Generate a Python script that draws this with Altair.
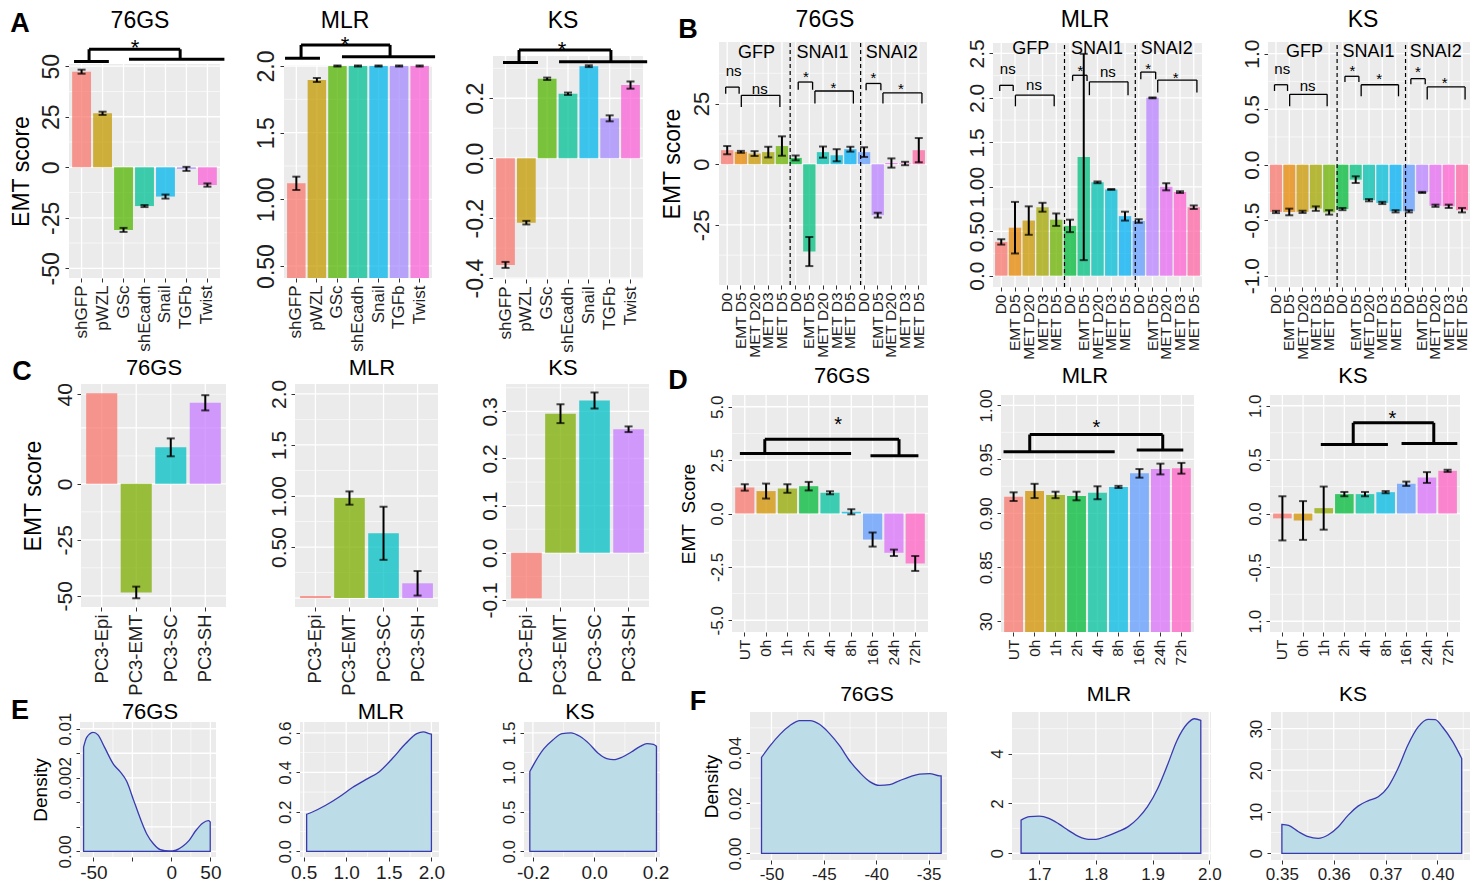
import altair as alt
import pandas as pd

FONT = "Liberation Sans"
GREY = "#EBEBEB"
LBL = "#1E1E1E"
W_TOTAL, H_TOTAL = 1473, 893

# ---------------- palettes (ggplot hue) ----------------
HUE7 = ["#F8766D", "#C49A00", "#53B400", "#00C094", "#00B6EB", "#A58AFF", "#FB61D7"]
HUE15 = ["#F8766D", "#E58700", "#C99800", "#A3A500", "#6BB100", "#00BA38", "#00BF7D", "#00C0AF",
         "#00BCD8", "#00B0F6", "#619CFF", "#B983FF", "#E76BF3", "#FD61D1", "#FF67A4"]
HUE4 = ["#F8766D", "#7CAE00", "#00BFC4", "#C77CFF"]
HUE9 = ["#F8766D", "#D39200", "#93AA00", "#00BA38", "#00C19F", "#00B9E3", "#619CFF", "#DB72FB", "#FF61C3"]

# ---------------- panel A ----------------
A_CATS = ["shGFP", "pWZL", "GSc", "shEcadh", "Snail", "TGFb", "Twist"]
A76_VAL = [47.3, 26.7, -31.0, -19.2, -14.5, -0.8, -8.8]
A76_ERR = [1.0, 0.8, 1.0, 0.5, 1.0, 1.0, 0.8]
AMLR_VAL = [1.12, 1.895, 2.0, 2.0, 2.0, 2.0, 2.0]
AMLR_ERR = [0.05, 0.015, 0.004, 0.004, 0.004, 0.004, 0.004]
AKS_VAL = [-0.356, -0.215, 0.265, 0.215, 0.307, 0.133, 0.244]
AKS_ERR = [0.01, 0.006, 0.004, 0.004, 0.003, 0.01, 0.012]
A76_BR = {"left": (-0.36, 1.30, 52.3), "right": (2.26, 6.81, 53.5), "top": (0.357, 4.70, 58.4), "star": (2.55, 62.0)}
AMLR_BR = {"left": (-0.55, 1.15, 2.058), "right": (2.22, 6.75, 2.07), "top": (0.23, 4.56, 2.158), "star": (2.37, 2.205)}
AKS_BR = {"left": (-0.12, 1.56, 0.319), "right": (2.57, 6.8, 0.322), "top": (0.65, 5.06, 0.361), "star": (2.71, 0.382)}

# ---------------- panel B ----------------
B_GROUPS = ["GFP", "SNAI1", "SNAI2"]
B_TIMES = ["D0", "EMT D5", "MET D20", "MET D3", "MET D5"]
B_CATS = [g + "|" + t for g in B_GROUPS for t in B_TIMES]
B76_VAL = [5.8, 5.1, 4.4, 5.0, 7.5, 2.6, -36.0, 5.0, 3.7, 6.2, 5.0, -21.0, 0.5, 0.3, 5.8]
B76_ERR = [1.7, 0.4, 1.0, 2.2, 4.0, 1.0, 6.0, 2.3, 2.5, 1.0, 2.0, 1.0, 1.9, 0.7, 5.0]
BMLR_VAL = [0.38, 0.54, 0.62, 0.77, 0.63, 0.56, 1.335, 1.05, 0.97, 0.67, 0.615, 2.0, 1.0, 0.94, 0.77]
BMLR_ERR = [0.03, 0.29, 0.16, 0.05, 0.07, 0.07, 1.16, 0.01, 0.005, 0.05, 0.02, 0.005, 0.04, 0.01, 0.02]
BKS_VAL = [-0.426, -0.426, -0.425, -0.396, -0.43, -0.40, -0.135, -0.32, -0.345, -0.42,
           -0.42, -0.25, -0.37, -0.375, -0.41]
BKS_ERR = [0.01, 0.03, 0.01, 0.02, 0.02, 0.01, 0.03, 0.01, 0.01, 0.01, 0.01, 0.005, 0.01, 0.015, 0.02]
B_SMALL_X = [(-0.11, 0.87), (5.19, 6.24), (10.15, 11.23)]
B_BIG_X = [(1.03, 3.85), (6.41, 9.22), (11.38, 14.23)]
B_SMALL_LX = [0.47, 5.75, 10.69]
B_BIG_LX = [2.38, 7.76, 12.69]
B_GROUP_LX = [2.14, 6.97, 12.03]
B_DASH_X = [4.6, 9.75]
B76_LEV = [(31.8, 29.1, 38.4, 28.4, 23.6, 31.2, "ns", "ns"),
           (33.9, 30.7, 37.6, 30.2, 25.0, 33.2, "*", "*"),
           (33.3, 30.5, 37.2, 29.4, 25.0, 32.5, "*", "*")]
BMLR_LEV = [(2.141, 2.077, 2.32, 2.03, 1.905, 2.15, "ns", "ns"),
            (2.254, 2.19, 2.35, 2.18, 2.03, 2.29, "*", "ns"),
            (2.29, 2.21, 2.375, 2.2, 2.06, 2.27, "*", "*")]
BKS_LEV = [(0.72, 0.664, 0.86, 0.634, 0.526, 0.71, "ns", "ns"),
           (0.796, 0.745, 0.88, 0.72, 0.616, 0.805, "*", "*"),
           (0.775, 0.724, 0.87, 0.70, 0.586, 0.775, "*", "*")]
B76_GY, BMLR_GY, BKS_GY = 46.0, 2.545, 1.012

# ---------------- panel C ----------------
C_CATS = ["PC3-Epi", "PC3-EMT", "PC3-SC", "PC3-SH"]
C76_VAL = [40.5, -48.5, 16.3, 36.2]
C76_ERR = [None, 2.6, 4.0, 3.4]
CMLR_VAL = [0.02, 0.98, 0.635, 0.145]
CMLR_ERR = [None, 0.065, 0.26, 0.12]
CKS_VAL = [-0.0965, 0.295, 0.323, 0.262]
CKS_ERR = [None, 0.02, 0.017, 0.006]

# ---------------- panel D ----------------
D_CATS = ["UT", "0h", "1h", "2h", "4h", "8h", "16h", "24h", "72h"]
D76_VAL = [1.22, 1.05, 1.17, 1.28, 0.97, 0.08, -1.22, -1.84, -2.34]
D76_ERR = [0.15, 0.35, 0.2, 0.2, 0.07, 0.12, 0.33, 0.15, 0.35]
DMLR_VAL = [0.9154, 0.9207, 0.917, 0.916, 0.919, 0.9244, 0.937, 0.941, 0.9417]
DMLR_ERR = [0.004, 0.0066, 0.003, 0.004, 0.006, 0.001, 0.004, 0.005, 0.005]
DKS_VAL = [-0.045, -0.065, 0.05, 0.18, 0.18, 0.198, 0.276, 0.334, 0.396]
DKS_ERR = [0.205, 0.18, 0.2, 0.02, 0.02, 0.01, 0.02, 0.05, 0.01]
D76_BR = {"left": (-0.23, 4.99, 2.81), "right": (5.9, 8.15, 2.7), "top": (0.94, 7.24, 3.48), "star": (4.38, 4.4)}
DMLR_BR = {"left": (-0.48, 4.82, 0.957), "right": (5.87, 8.09, 0.9586), "top": (0.77, 7.11, 0.973), "star": (3.95, 0.984)}
DKS_BR = {"left": (1.86, 5.11, 0.64), "right": (5.77, 8.47, 0.65), "top": (3.43, 7.33, 0.842), "star": (5.33, 0.93)}

# ---------------- panel E (densities) ----------------
E76_X = [-56.3, -54.3, -50, -47.1, -42.9, -37.1, -32.9, -28.6, -24.3, -20, -15.7, -11.4, -7.1, -1.4,
         2.9, 7.1, 11.4, 15.7, 20, 23.7, 24.9]
E76_D = [0.0085, 0.0093, 0.0097, 0.0095, 0.0085, 0.0071, 0.0065, 0.0057, 0.0042, 0.0027, 0.0014,
         0.0006, 0.00014, 0.00003, 0.0001, 0.0004, 0.0009, 0.0017, 0.0023, 0.0025, 0.0024]
EMLR_X = [0.536, 0.604, 0.76, 0.917, 1.073, 1.229, 1.385, 1.542, 1.698, 1.828, 1.906, 1.974, 2.0]
EMLR_D = [0.1875, 0.199, 0.233, 0.275, 0.323, 0.363, 0.402, 0.47, 0.546, 0.596, 0.605, 0.596, 0.593]
EKS_X = [-0.21, -0.193, -0.164, -0.135, -0.105, -0.076, -0.047, -0.017, 0.012, 0.041, 0.063, 0.092,
         0.121, 0.15, 0.172, 0.193, 0.203]
EKS_D = [1.01, 1.13, 1.30, 1.41, 1.49, 1.50, 1.456, 1.363, 1.245, 1.173, 1.16, 1.194, 1.257, 1.329,
         1.363, 1.354, 1.329]

# ---------------- panel F (densities) ----------------
F76_X = [-50.95, -50.14, -49.19, -48.24, -47.3, -46.33, -45.38, -44.43, -43.48, -42.52, -41.57, -40.62,
         -39.67, -38.71, -37.76, -36.81, -35.86, -34.9, -33.95, -33.8]
F76_D = [0.0382, 0.0428, 0.0474, 0.0509, 0.0529, 0.0529, 0.0513, 0.0476, 0.0428, 0.0368, 0.0322,
         0.0286, 0.0271, 0.0274, 0.029, 0.0305, 0.0316, 0.0318, 0.0309, 0.0309]
FMLR_X = [1.668, 1.683, 1.70, 1.717, 1.735, 1.752, 1.77, 1.787, 1.80, 1.817, 1.839, 1.857, 1.874,
          1.891, 1.909, 1.926, 1.943, 1.961, 1.974, 1.985]
FMLR_D = [1.33, 1.47, 1.49, 1.40, 1.17, 0.91, 0.67, 0.56, 0.56, 0.67, 0.87, 1.07, 1.40, 1.87, 2.6,
          3.53, 4.53, 5.2, 5.4, 5.33]
FKS_X = [0.35, 0.3513, 0.3532, 0.3551, 0.357, 0.3589, 0.3609, 0.3628, 0.3647, 0.3666, 0.3686, 0.3705,
         0.3724, 0.3743, 0.3763, 0.3782, 0.3796, 0.381, 0.383, 0.3847]
FKS_D = [6.96, 6.72, 5.2, 4.0, 3.6, 4.4, 6.4, 9.2, 11.36, 12.64, 13.6, 16.0, 20.4, 26.0, 30.4, 32.24,
         32.16, 30.4, 26.8, 22.8]

SP_DF = pd.DataFrame({"a": [0]})


# ================= helpers =================
def lab_expr(labels):
    s = ""
    for v, t in labels.items():
        s += "datum.value == %r ? '%s' : " % (v, t)
    return s + "''"


def y_axis(rect, labels, major, size, title=None, tsize=20, tpad=4):
    vals = sorted(set(list(major) + list(labels)))
    kw = dict(orient="left", offset=-rect[0], values=vals, labelExpr=lab_expr(labels),
              labelFontSize=size, labelColor=LBL, labelFont=FONT, labelOverlap=False, labelFlush=False,
              labelAngle=270, labelAlign="center", labelBaseline="bottom", labelPadding=2,
              domain=False, grid=False, tickColor="#333333", tickSize=4, tickWidth=1)
    if title:
        kw.update(title=title, titleFontSize=tsize, titleFont=FONT, titleFontWeight="normal",
                  titleColor="black", titlePadding=tpad)
    else:
        kw.update(title=None)
    return alt.Axis(**kw)


def x_axis_q(rect, labels, major, size):
    vals = sorted(set(list(major) + list(labels)))
    return alt.Axis(orient="bottom", offset=rect[3] - H_TOTAL, values=vals, labelExpr=lab_expr(labels),
                    labelFontSize=size, labelColor=LBL, labelFont=FONT, labelOverlap=False,
                    labelFlush=False, labelAngle=0, labelAlign="center", labelBaseline="top",
                    labelPadding=2, domain=False, grid=False, tickColor="#333333", tickSize=4,
                    tickWidth=1, title=None)


def x_axis_band(rect, size, expr=None):
    kw = dict(orient="bottom", offset=rect[3] - H_TOTAL, title=None, labelAngle=270, labelAlign="right",
              labelBaseline="middle", labelFontSize=size, labelColor=LBL, labelFont=FONT, labelPadding=3,
              labelOverlap=False, domain=False, grid=False, tickColor="#333333", tickSize=4)
    if expr:
        kw["labelExpr"] = expr
    return alt.Axis(**kw)


def bg(rect):
    x0, y0, x1, y1 = rect
    return alt.Chart(SP_DF).mark_rect(fill=GREY).encode(
        x=alt.value(x0), x2=alt.value(x1), y=alt.value(y0), y2=alt.value(y1))


def inside(v, dom):
    return min(dom) <= v <= max(dom)


def hgrid(rect, ys, dom, major, minor):
    mj = [v for v in major if inside(v, dom)]
    mn = [v for v in minor if inside(v, dom)]
    df = pd.DataFrame({"v": mj + mn, "w": [1.3] * len(mj) + [0.6] * len(mn)})
    return alt.Chart(df).mark_rule(color="white").encode(
        y=alt.Y("v:Q", scale=ys, axis=None), x=alt.value(rect[0]), x2=alt.value(rect[2]),
        strokeWidth=alt.StrokeWidth("w:Q", scale=None))


def vgrid_q(rect, xs, dom, major, minor):
    mj = [v for v in major if inside(v, dom)]
    mn = [v for v in minor if inside(v, dom)]
    df = pd.DataFrame({"v": mj + mn, "w": [1.3] * len(mj) + [0.6] * len(mn)})
    return alt.Chart(df).mark_rule(color="white").encode(
        x=alt.X("v:Q", scale=xs, axis=None), y=alt.value(rect[1]), y2=alt.value(rect[3]),
        strokeWidth=alt.StrokeWidth("w:Q", scale=None))


def vgrid_band(rect, xs, cats):
    df = pd.DataFrame({"cat": cats})
    return alt.Chart(df).mark_rule(color="white", strokeWidth=1.3).encode(
        x=alt.X("cat:N", scale=xs, sort=cats, axis=None), y=alt.value(rect[1]), y2=alt.value(rect[3]))


def seg_chart(df, xq, ys, sw, dash=None):
    kw = dict(color="black", strokeWidth=sw)
    if dash:
        kw["strokeDash"] = dash
    return alt.Chart(df).mark_rule(**kw).encode(
        x=alt.X("x:Q", scale=xq, axis=None), x2="x2:Q",
        y=alt.Y("y:Q", scale=ys, axis=None), y2="y2:Q")


def txt_chart(df, xq, ys, size, dy=0):
    return alt.Chart(df).mark_text(font=FONT, fontSize=size, color="black", baseline="middle",
                                   align="center", dy=dy).encode(
        x=alt.X("x:Q", scale=xq, axis=None), y=alt.Y("y:Q", scale=ys, axis=None), text="t:N")


def text_at(t, x, y, size, bold=False):
    return alt.Chart(SP_DF).mark_text(font=FONT, fontSize=size, fontWeight="bold" if bold else "normal",
                                      color="black", baseline="middle", align="center").encode(
        x=alt.value(x), y=alt.value(y), text=alt.value(t))


def sig_annots(br, sw=3, star_size=22):
    L, R, T, S = br["left"], br["right"], br["top"], br["star"]
    segs = pd.DataFrame({
        "x": [L[0], R[0], T[0], T[0], T[1]],
        "x2": [L[1], R[1], T[1], T[0], T[1]],
        "y": [L[2], R[2], T[2], T[2], T[2]],
        "y2": [L[2], R[2], T[2], L[2], R[2]]})
    star = pd.DataFrame({"x": [S[0]], "y": [S[1]], "t": ["*"]})
    return [lambda xq, ys: seg_chart(segs, xq, ys, sw),
            lambda xq, ys: txt_chart(star, xq, ys, star_size, dy=star_size * 0.28)]


def b_annots(lev, gy, dom):
    xs, x2s, ys_, y2s = [], [], [], []
    ns_rows, st_rows = [], []
    for g in range(3):
        st, se, sl, bt, be, bl, stxt, btxt = lev[g]
        for (a, b), top, end in ((B_SMALL_X[g], st, se), (B_BIG_X[g], bt, be)):
            xs += [a, a, b]
            x2s += [b, a, b]
            ys_ += [top, top, top]
            y2s += [top, end, end]
        for xx, yy, tt in ((B_SMALL_LX[g], sl, stxt), (B_BIG_LX[g], bl, btxt)):
            (ns_rows if tt == "ns" else st_rows).append((xx, yy, tt))
    segs = pd.DataFrame({"x": xs, "x2": x2s, "y": ys_, "y2": y2s})
    ns = pd.DataFrame(ns_rows, columns=["x", "y", "t"])
    stars = pd.DataFrame(st_rows, columns=["x", "y", "t"])
    groups = pd.DataFrame({"x": B_GROUP_LX, "y": [gy] * 3, "t": B_GROUPS})
    dash = pd.DataFrame({"x": B_DASH_X, "x2": B_DASH_X, "y": [dom[0]] * 2, "y2": [dom[1]] * 2})
    return [lambda xq, ys: seg_chart(segs, xq, ys, 1.3),
            lambda xq, ys: seg_chart(dash, xq, ys, 1.2, dash=[4, 3]),
            lambda xq, ys: txt_chart(ns, xq, ys, 15),
            lambda xq, ys: txt_chart(stars, xq, ys, 15, dy=4),
            lambda xq, ys: txt_chart(groups, xq, ys, 18)]


def bar_panel(rect, cats, vals, errs, colors, dom, yax, xax, hmajor, hminor, annots=()):
    x0, y0, x1, y1 = rect
    base = min(max(0.0, dom[0]), dom[1])
    lo = [None if e is None else v - e for v, e in zip(vals, errs)]
    hi = [None if e is None else v + e for v, e in zip(vals, errs)]
    df = pd.DataFrame({"cat": cats, "val": vals, "base": [base] * len(cats), "lo": lo, "hi": hi,
                       "col": colors})
    xs = alt.Scale(domain=cats, range=[x0, x1], paddingInner=0.1, paddingOuter=0.15)
    ys = alt.Scale(domain=dom, range=[y1, y0], nice=False, zero=False)

    def X(ax):
        return alt.X("cat:N", scale=xs, sort=cats, axis=ax)

    c = alt.Chart(df)
    bars = c.mark_bar(opacity=0.75).encode(
        x=X(xax), y=alt.Y("val:Q", scale=ys, axis=yax), y2="base:Q",
        color=alt.Color("col:N", scale=None))
    err = c.mark_rule(color="black", strokeWidth=2).encode(
        x=X(None), y=alt.Y("lo:Q", scale=ys, axis=None), y2="hi:Q")
    cap1 = c.mark_tick(color="black", thickness=2, size=8).encode(
        x=X(None), y=alt.Y("lo:Q", scale=ys, axis=None))
    cap2 = c.mark_tick(color="black", thickness=2, size=8).encode(
        x=X(None), y=alt.Y("hi:Q", scale=ys, axis=None))
    n = len(cats)
    xq = alt.Scale(domain=[-0.6, n - 0.4], range=[x0, x1], nice=False, zero=False)
    layers = [bg(rect), hgrid(rect, ys, dom, hmajor, hminor), vgrid_band(rect, xs, cats),
              bars, err, cap1, cap2]
    for a in annots:
        layers.append(a(xq, ys))
    return alt.layer(*layers).resolve_scale(x="independent", y="independent")


def dens_panel(rect, xv, dv, xdom, ydom, xax, yax, xmaj, xmin, ymaj, ymin):
    x0, y0, x1, y1 = rect
    xs = alt.Scale(domain=xdom, range=[x0, x1], nice=False, zero=False)
    ys = alt.Scale(domain=ydom, range=[y1, y0], nice=False, zero=False)
    df = pd.DataFrame({"x": xv, "d": dv})
    area = alt.Chart(df).mark_area(fill="#BCDDE7", stroke="#3A3AB0", strokeWidth=1.3,
                                   interpolate="monotone", fillOpacity=1).encode(
        x=alt.X("x:Q", scale=xs, axis=xax), y=alt.Y("d:Q", scale=ys, axis=yax))
    layers = [bg(rect), hgrid(rect, ys, ydom, ymaj, ymin), vgrid_q(rect, xs, xdom, xmaj, xmin), area]
    return alt.layer(*layers).resolve_scale(x="independent", y="independent")


# ================= panel rectangles (left, top, right, bottom) in page pixels =================
R_A76, R_AMLR, R_AKS = (69, 64, 220, 278), (284, 65, 432, 278), (493, 56, 643, 279)
R_B76, R_BMLR, R_BKS = (719, 42, 927, 285), (993, 43, 1202, 287), (1268, 42, 1470, 287)
R_C76, R_CMLR, R_CKS = (81, 384, 226, 607), (295, 384, 438, 607), (506, 384, 649, 607)
R_D76, R_DMLR, R_DKS = (732, 395, 928, 632), (1001, 395, 1194, 632), (1270, 395, 1460, 632)
R_E76, R_EMLR, R_EKS = (80, 722, 216, 857), (300, 722, 439, 857), (524, 722, 660, 857)
R_F76, R_FMLR, R_FKS = (750, 712, 947, 860), (1012, 712, 1211, 860), (1271, 712, 1470, 860)

EMT = "EMT score"
layers = []

# ---- A ----
M = [-50, -25, 0, 25, 50]
layers.append(bar_panel(R_A76, A_CATS, A76_VAL, A76_ERR, HUE7, [-54.8, 51.1],
                        y_axis(R_A76, {v: str(v) for v in M}, M, 23, EMT, 23, 7),
                        x_axis_band(R_A76, 17), M, [-37.5, -12.5, 12.5, 37.5], sig_annots(A76_BR)))
M = [0.5, 1.0, 1.5, 2.0]
layers.append(bar_panel(R_AMLR, A_CATS, AMLR_VAL, AMLR_ERR, HUE7, [0.41, 2.0075],
                        y_axis(R_AMLR, {0.5: "0.50", 1.0: "1.00", 1.5: "1.5", 2.0: "2.0"}, M, 23),
                        x_axis_band(R_AMLR, 17), M, [0.75, 1.25, 1.75], sig_annots(AMLR_BR)))
M = [-0.4, -0.2, 0.0, 0.2]
layers.append(bar_panel(R_AKS, A_CATS, AKS_VAL, AKS_ERR, HUE7, [-0.403, 0.341],
                        y_axis(R_AKS, {-0.4: "-0.4", -0.2: "-0.2", 0.0: "0.0", 0.2: "0.2"}, M, 23),
                        x_axis_band(R_AKS, 17), M, [-0.3, -0.1, 0.1, 0.3], sig_annots(AKS_BR)))

# ---- B ----
B_EXPR = "split(datum.label, '|')[1]"
B76_DOM, BMLR_DOM, BKS_DOM = [-49.8, 50.4], [-0.127, 2.617], [-1.102, 1.105]
M = [-25, 0, 25]
layers.append(bar_panel(R_B76, B_CATS, B76_VAL, B76_ERR, HUE15, B76_DOM,
                        y_axis(R_B76, {-25: "-25", 0: "0", 25: "25"}, M, 22, EMT, 23, 6),
                        x_axis_band(R_B76, 15.5, B_EXPR), M, [-37.5, -12.5, 12.5, 37.5],
                        b_annots(B76_LEV, B76_GY, B76_DOM)))
M = [0.0, 0.5, 1.0, 1.5, 2.0, 2.5]
layers.append(bar_panel(R_BMLR, B_CATS, BMLR_VAL, BMLR_ERR, HUE15, BMLR_DOM,
                        y_axis(R_BMLR, {0.0: "0.0", 0.5: "0.50", 1.0: "1.00", 1.5: "1.5", 2.0: "2.0",
                                        2.5: "2.5"}, M, 21),
                        x_axis_band(R_BMLR, 15.5, B_EXPR), M, [0.25, 0.75, 1.25, 1.75, 2.25],
                        b_annots(BMLR_LEV, BMLR_GY, BMLR_DOM)))
M = [-1.0, -0.5, 0.0, 0.5, 1.0]
layers.append(bar_panel(R_BKS, B_CATS, BKS_VAL, BKS_ERR, HUE15, BKS_DOM,
                        y_axis(R_BKS, {-1.0: "-1.0", -0.5: "-0.5", 0.0: "0.0", 0.5: "0.5", 1.0: "1.0"}, M, 21),
                        x_axis_band(R_BKS, 15.5, B_EXPR), M, [-0.75, -0.25, 0.25, 0.75],
                        b_annots(BKS_LEV, BKS_GY, BKS_DOM)))

# ---- C ----
layers.append(bar_panel(R_C76, C_CATS, C76_VAL, C76_ERR, HUE4, [-55.0, 44.6],
                        y_axis(R_C76, {-50: "-50", -25: "-25", 0: "0", 40: "40"}, [-50, -25, 0], 21, EMT, 23, 9),
                        x_axis_band(R_C76, 18.5), [-50, -25, 0, 25], [-37.5, -12.5, 12.5, 40]))
layers.append(bar_panel(R_CMLR, C_CATS, CMLR_VAL, CMLR_ERR, HUE4, [-0.087, 2.097],
                        y_axis(R_CMLR, {0.5: "0.50", 1.0: "1.00", 1.5: "1.5", 2.0: "2.0"}, [0.5, 1.0, 1.5, 2.0], 21),
                        x_axis_band(R_CMLR, 18.5), [0.0, 0.5, 1.0, 1.5, 2.0], [0.25, 0.75, 1.25, 1.75]))
M = [-0.1, 0.0, 0.1, 0.2, 0.3]
layers.append(bar_panel(R_CKS, C_CATS, CKS_VAL, CKS_ERR, HUE4, [-0.115, 0.358],
                        y_axis(R_CKS, {-0.1: "-0.1", 0.0: "0.0", 0.1: "0.1", 0.2: "0.2", 0.3: "0.3"}, M, 21),
                        x_axis_band(R_CKS, 18.5), M, [-0.05, 0.05, 0.15, 0.25, 0.35]))

# ---- D ----
M = [-5.0, -2.5, 0.0, 2.5, 5.0]
layers.append(bar_panel(R_D76, D_CATS, D76_VAL, D76_ERR, HUE9, [-5.55, 5.55],
                        y_axis(R_D76, {-5.0: "-5.0", -2.5: "-2.5", 0.0: "0.0", 2.5: "2.5", 5.0: "5.0"}, M, 17,
                               "EMT\u00a0\u00a0Score", 19, 10),
                        x_axis_band(R_D76, 15.5), M, [-3.75, -1.25, 1.25, 3.75], sig_annots(D76_BR, 3, 20)))
M = [0.8, 0.85, 0.9, 0.95, 1.0]
layers.append(bar_panel(R_DMLR, D_CATS, DMLR_VAL, DMLR_ERR, HUE9, [0.79, 1.0096],
                        y_axis(R_DMLR, {0.8: "30", 0.85: "0.85", 0.9: "0.90", 0.95: "0.95", 1.0: "1.00"}, M, 17),
                        x_axis_band(R_DMLR, 15.5), M, [0.825, 0.875, 0.925, 0.975], sig_annots(DMLR_BR, 3, 20)))
M = [-1.0, -0.5, 0.0, 0.5, 1.0]
layers.append(bar_panel(R_DKS, D_CATS, DKS_VAL, DKS_ERR, HUE9, [-1.1, 1.1],
                        y_axis(R_DKS, {-1.0: "1.0", -0.5: "-0.5", 0.0: "0.0", 0.5: "0.5", 1.0: "1.0"}, M, 17),
                        x_axis_band(R_DKS, 15.5), M, [-0.75, -0.25, 0.25, 0.75], sig_annots(DKS_BR, 3, 20)))

# ---- E ----
XM, YM = [-50, -25, 0, 25], [0.0, 0.002, 0.004, 0.006, 0.008, 0.01]
layers.append(dens_panel(R_E76, E76_X, E76_D, [-58.6, 28.6], [-0.00046, 0.01055],
                         x_axis_q(R_E76, {-50: "-50", 0: "0", 25: "50"}, XM, 19),
                         y_axis(R_E76, {0.0: "0.00", 0.006: "0.002", 0.01: "0.01"}, YM, 17, "Density", 19, 6),
                         XM, [-37.5, -12.5, 12.5], YM, []))
XM, YM = [0.5, 1.0, 1.5, 2.0], [0.0, 0.2, 0.4, 0.6]
layers.append(dens_panel(R_EMLR, EMLR_X, EMLR_D, [0.458, 2.089], [-0.029, 0.655],
                         x_axis_q(R_EMLR, {0.5: "0.5", 1.0: "1.0", 1.5: "1.5", 2.0: "2.0"}, XM, 19),
                         y_axis(R_EMLR, {0.0: "0.0", 0.2: "0.2", 0.4: "0.4", 0.6: "0.6"}, YM, 17),
                         XM, [0.75, 1.25, 1.75], YM, [0.1, 0.3, 0.5]))
XM, YM = [-0.2, 0.0, 0.2], [0.0, 0.5, 1.0, 1.5]
layers.append(dens_panel(R_EKS, EKS_X, EKS_D, [-0.229, 0.2145], [-0.072, 1.637],
                         x_axis_q(R_EKS, {-0.2: "-0.2", 0.0: "0.0", 0.2: "0.2"}, XM, 19),
                         y_axis(R_EKS, {0.0: "0.0", 0.5: "0.5", 1.0: "1.0", 1.5: "1.5"}, YM, 17),
                         XM, [-0.1, 0.1], YM, [0.25, 0.75, 1.25]))

# ---- F ----
XM, YM = [-50, -45, -40, -35], [0.0, 0.02, 0.04]
layers.append(dens_panel(R_F76, F76_X, F76_D, [-52.05, -33.24], [-0.0026, 0.0563],
                         x_axis_q(R_F76, {-50: "-50", -45: "-45", -40: "-40", -35: "-35"}, XM, 17),
                         y_axis(R_F76, {0.0: "0.00", 0.02: "0.02", 0.04: "0.04"}, YM, 17, "Density", 19, 5),
                         XM, [-47.5, -42.5, -37.5], YM, [0.01, 0.03, 0.05]))
XM, YM = [1.7, 1.8, 1.9, 2.0], [0, 2, 4]
layers.append(dens_panel(R_FMLR, FMLR_X, FMLR_D, [1.652, 2.003], [-0.27, 5.67],
                         x_axis_q(R_FMLR, {1.7: "1.7", 1.8: "1.8", 1.9: "1.9", 2.0: "2.0"}, XM, 17),
                         y_axis(R_FMLR, {0: "0", 2: "2", 4: "4"}, YM, 17),
                         XM, [1.75, 1.85, 1.95], YM, [1, 3, 5]))
XM, YM = [0.35, 0.36, 0.37, 0.38], [0, 10, 20, 30]
layers.append(dens_panel(R_FKS, FKS_X, FKS_D, [0.3479, 0.3863], [-1.6, 34.0],
                         x_axis_q(R_FKS, {0.35: "0.35", 0.36: "0.36", 0.37: "0.37", 0.38: "0.40"}, XM, 17),
                         y_axis(R_FKS, {0: "0", 10: "10", 20: "20", 30: "30"}, YM, 17),
                         XM, [0.355, 0.365, 0.375, 0.385], YM, [5, 15, 25]))

# ---- panel titles and letters ----
for t, x, y, s in [("76GS", 140, 21, 23), ("MLR", 345, 21, 23), ("KS", 563, 21, 23),
                   ("76GS", 825, 20, 23), ("MLR", 1085, 20, 23), ("KS", 1363, 20, 23),
                   ("76GS", 154, 368, 22), ("MLR", 372, 368, 22), ("KS", 563, 368, 22),
                   ("76GS", 842, 376, 22), ("MLR", 1085, 376, 22), ("KS", 1353, 376, 22),
                   ("76GS", 150, 712, 22), ("MLR", 381, 712, 22), ("KS", 580, 712, 22),
                   ("76GS", 867, 695, 21), ("MLR", 1109, 695, 21), ("KS", 1353, 695, 21)]:
    layers.append(text_at(t, x, y, s))
for t, x, y in [("A", 20, 24), ("B", 688, 30), ("C", 22, 372), ("D", 678, 381), ("E", 20, 711), ("F", 698, 702)]:
    layers.append(text_at(t, x, y, 27, bold=True))

chart = alt.layer(*layers).resolve_scale(x="independent", y="independent").properties(
    width=W_TOTAL, height=H_TOTAL, padding=0, background="white",
    autosize=alt.AutoSizeParams(type="none")
).configure_view(stroke=None, fill=None)

chart.save("out.html", embed_options={"renderer": "svg", "actions": False})
